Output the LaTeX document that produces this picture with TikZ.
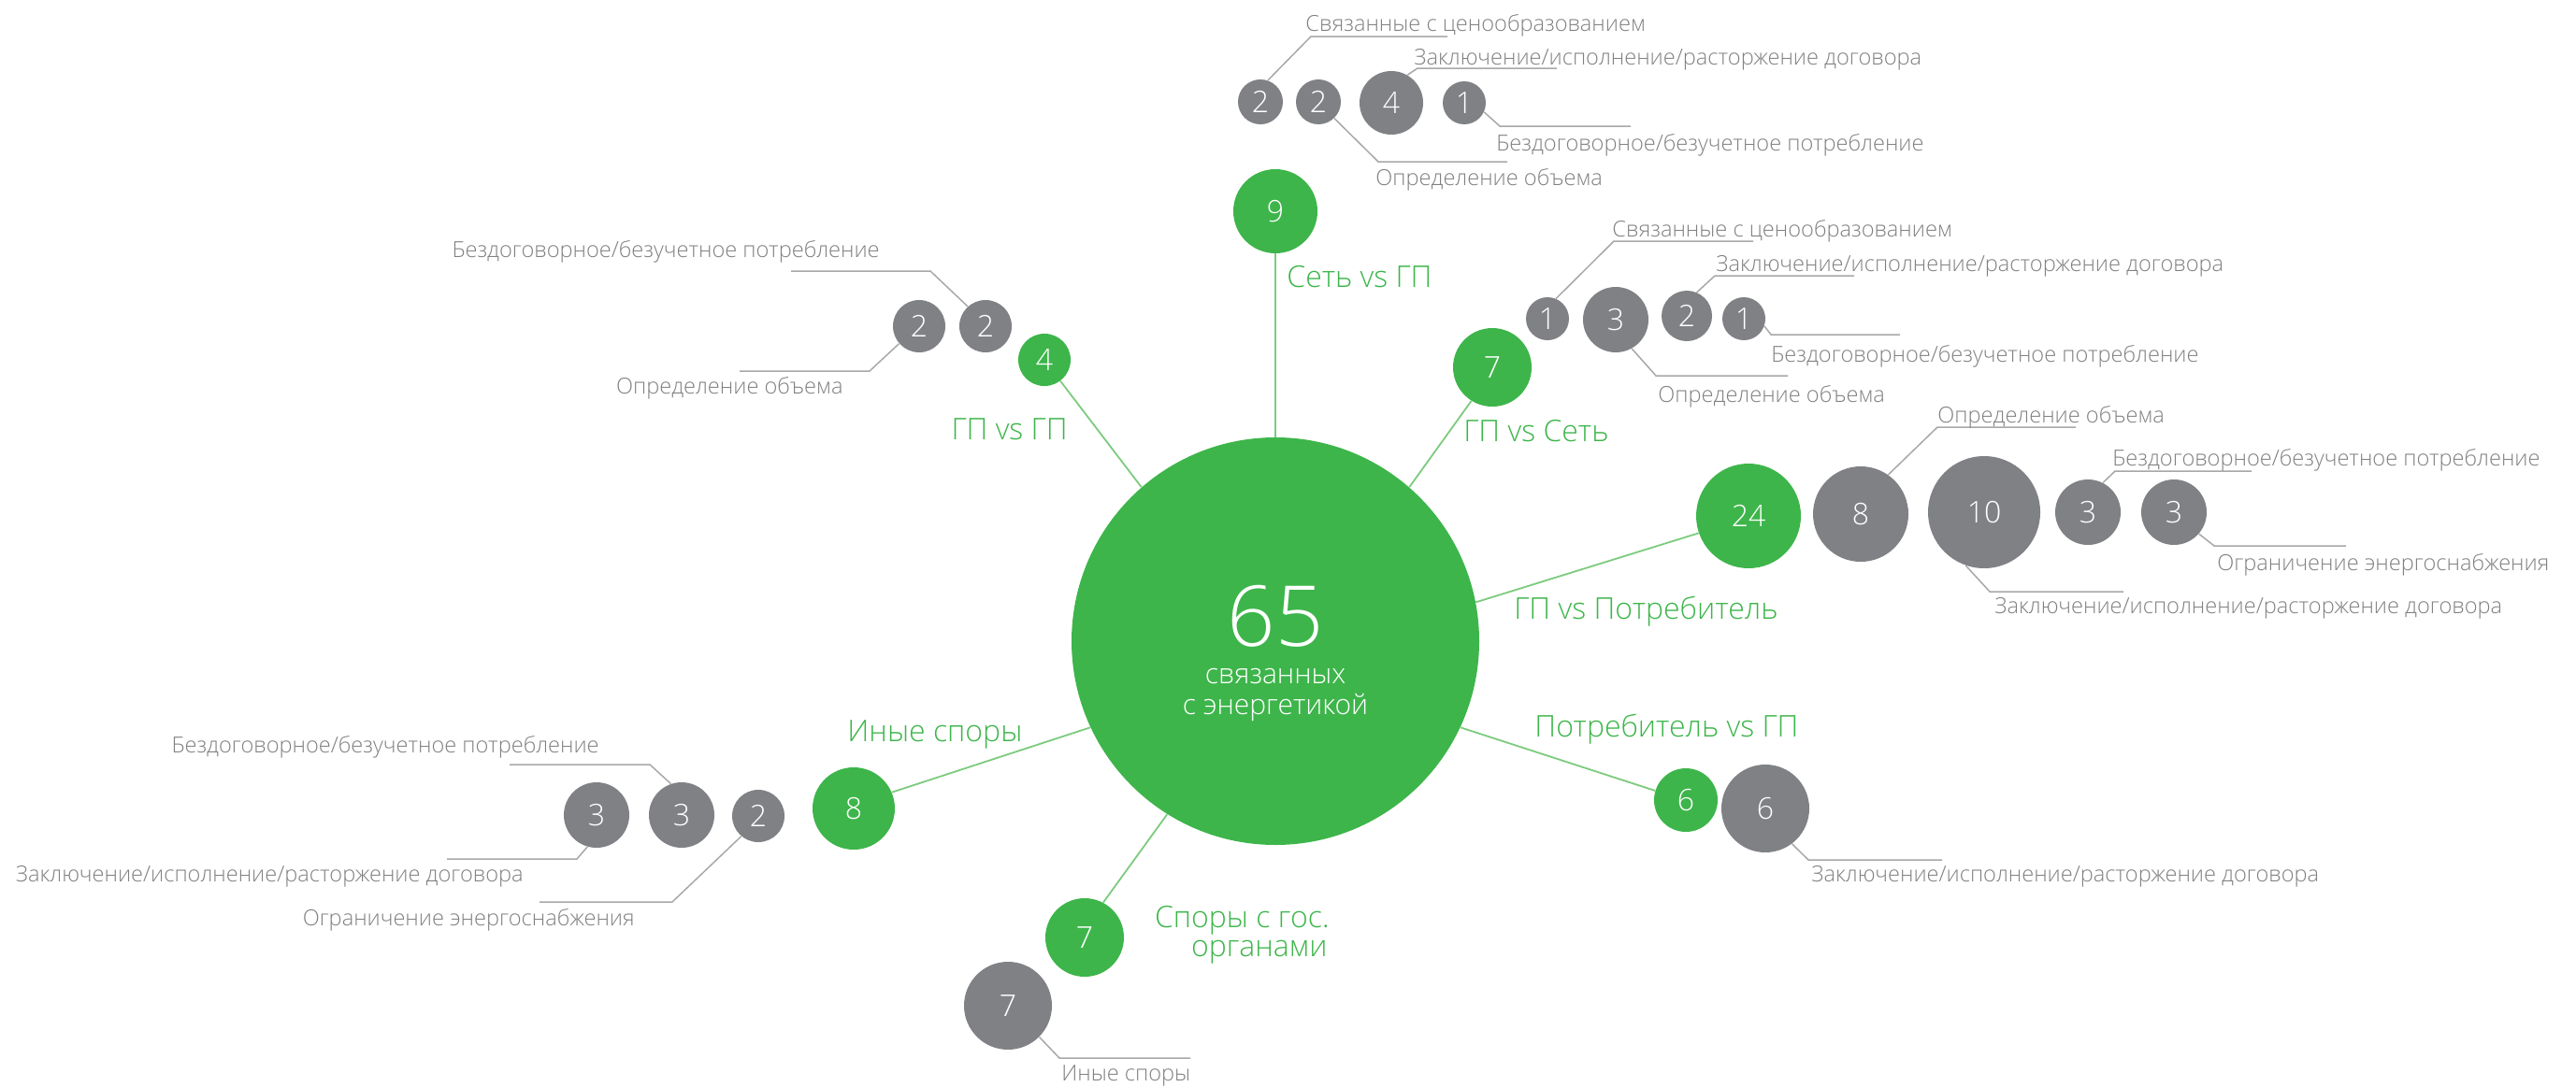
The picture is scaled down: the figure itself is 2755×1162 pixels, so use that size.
\documentclass[tikz,border=0pt]{standalone}
\usepackage{fontspec}
\IfFontExistsTF{Open Sans Light}{\setmainfont{Open Sans Light}}{\setmainfont{Open Sans}}
\definecolor{mygreen}{HTML}{3DB54A}
\definecolor{mygrey}{HTML}{808185}
\definecolor{txtgrey}{HTML}{808080}
\definecolor{linegrey}{HTML}{A8A8A8}
\definecolor{linegreen}{HTML}{7CCB7E}
\begin{document}
\begin{tikzpicture}[x=0.5pt,y=-0.5pt,
  bubble/.style={circle, inner sep=0pt, text=white, font=\fontsize{16}{16}\selectfont},
  gbub/.style={bubble, fill=mygreen},
  rbub/.style={bubble, fill=mygrey},
  glab/.style={inner sep=0pt, text=mygreen, font=\fontsize{16}{16}\selectfont},
  tlab/.style={inner sep=0pt, text=txtgrey, font=\fontsize{11.8}{11.8}\selectfont},
  ctext/.style={inner sep=0pt, text=white},
  lead/.style={draw=linegrey, line width=0.75pt},
  spoke/.style={draw=linegreen, line width=0.9pt}]
\useasboundingbox (0,0) rectangle (2755,1162);

% central circle
\node[gbub, minimum size=218pt] (c) at (1364,686) {};
\node[ctext, font=\fontsize{45}{45}\selectfont, anchor=base] (c65) at (1364,691) {65};
\node[ctext, font=\fontsize{15}{15}\selectfont, anchor=base] (cl1) at (1364,731) {связанных};
\node[ctext, font=\fontsize{15}{15}\selectfont, anchor=base] (cl2) at (1364,764) {с энергетикой};

% green category circles
\node[gbub, minimum size=45pt] (g9) at (1364,226) {9};
\node[gbub, minimum size=28pt] (g4) at (1117,385) {4};
\node[gbub, minimum size=42pt] (g7a) at (1596,393) {7};
\node[gbub, minimum size=56pt] (g24) at (1870,552) {24};
\node[gbub, minimum size=34pt] (g6) at (1803,856) {6};
\node[gbub, minimum size=44pt] (g8) at (913,865) {8};
\node[gbub, minimum size=42pt] (g7b) at (1160,1003) {7};

% spokes
\draw[spoke] (c.north) -- (g9.south);
\draw[spoke] (c.131) -- (g4.-53);
\draw[spoke] (c.49) -- (g7a.238);
\draw[spoke] (c.11) -- (g24.199);
\draw[spoke] (c.-25) -- (g6.163);
\draw[spoke] (c.205) -- (g8.23);
\draw[spoke] (c.238) -- (g7b.62);

% green labels
\node[glab, anchor=base west] (lab9) at (1376,307) {Сеть vs ГП};
\node[glab, anchor=base east] (lab4) at (1142,470) {ГП vs ГП};
\node[glab, anchor=base west] (lab7a) at (1565,472) {ГП vs Сеть};
\node[glab, anchor=base west] (lab24) at (1619,662) {ГП vs Потребитель};
\node[glab, anchor=base west] (lab6) at (1641,788) {Потребитель vs ГП};
\node[glab, anchor=base west] (lab8) at (906,793) {Иные споры};
\node[glab, anchor=base east] (lab7b1) at (1422,992) {Споры с гос.};
\node[glab, anchor=base east] (lab7b2) at (1420,1023) {органами};

% ---- top group (Сеть vs ГП)
\node[rbub, minimum size=24pt] (t1) at (1348,109) {2};
\node[rbub, minimum size=24pt] (t2) at (1410,109) {2};
\node[rbub, minimum size=34pt] (t3) at (1488,110) {4};
\node[rbub, minimum size=23pt] (t4) at (1566,110) {1};
\coordinate (t1e) at (1402,39); \coordinate (t1f) at (1548,39);
\coordinate (t3e) at (1516,73); \coordinate (t3f) at (1665,73);
\coordinate (t4e) at (1604,135); \coordinate (t4f) at (1744,135);
\coordinate (t2e) at (1474,173); \coordinate (t2f) at (1612,173);
\draw[lead] (t1.71) -- (t1e) -- (t1f);
\draw[lead] (t3.60) -- (t3e) -- (t3f);
\draw[lead] (t4.-25) -- (t4e) -- (t4f);
\draw[lead] (t2.-46) -- (t2e) -- (t2f);
\node[tlab, anchor=base west] (t1l) at (1396,33) {Связанные с ценообразованием};
\node[tlab, anchor=base west] (t3l) at (1512,69) {Заключение/исполнение/расторжение договора};
\node[tlab, anchor=base west] (t4l) at (1600,161) {Бездоговорное/безучетное потребление};
\node[tlab, anchor=base west] (t2l) at (1471,198) {Определение объема};

% ---- upper right group (ГП vs Сеть)
\node[rbub, minimum size=23pt] (r1) at (1655,341) {1};
\node[rbub, minimum size=35pt] (r2) at (1728,342) {3};
\node[rbub, minimum size=27pt] (r3) at (1804,338) {2};
\node[rbub, minimum size=23pt] (r4) at (1865,341) {1};
\coordinate (r1e) at (1726,258); \coordinate (r1f) at (1875,258);
\coordinate (r3e) at (1834,295); \coordinate (r3f) at (1983,295);
\coordinate (r4e) at (1894,358); \coordinate (r4f) at (2032,358);
\coordinate (r2e) at (1771,402); \coordinate (r2f) at (1912,402);
\draw[lead] (r1.67) -- (r1e) -- (r1f);
\draw[lead] (r3.67) -- (r3e) -- (r3f);
\draw[lead] (r4.-20) -- (r4e) -- (r4f);
\draw[lead] (r2.-61) -- (r2e) -- (r2f);
\node[tlab, anchor=base west] (r1l) at (1724,253) {Связанные с ценообразованием};
\node[tlab, anchor=base west] (r3l) at (1835,290) {Заключение/исполнение/расторжение договора};
\node[tlab, anchor=base west] (r4l) at (1894,387) {Бездоговорное/безучетное потребление};
\node[tlab, anchor=base west] (r2l) at (1773,430) {Определение объема};

% ---- right group (ГП vs Потребитель)
\node[rbub, minimum size=51pt] (p1) at (1990,550) {8};
\node[rbub, minimum size=60pt] (p2) at (2122,548) {10};
\node[rbub, minimum size=35pt] (p3) at (2233,548) {3};
\node[rbub, minimum size=35pt] (p4) at (2325,548) {3};
\coordinate (p1e) at (2072,457); \coordinate (p1f) at (2220,457);
\coordinate (p3e) at (2262,504); \coordinate (p3f) at (2408,504);
\coordinate (p4e) at (2368,584); \coordinate (p4f) at (2509,584);
\coordinate (p2e) at (2128,633); \coordinate (p2f) at (2271,633);
\draw[lead] (p1.55) -- (p1e) -- (p1f);
\draw[lead] (p3.63) -- (p3e) -- (p3f);
\draw[lead] (p4.-41) -- (p4e) -- (p4f);
\draw[lead] (p2.-109) -- (p2e) -- (p2f);
\node[tlab, anchor=base west] (p1l) at (2072,452) {Определение объема};
\node[tlab, anchor=base west] (p3l) at (2259,498) {Бездоговорное/безучетное потребление};
\node[tlab, anchor=base west] (p4l) at (2371,610) {Ограничение энергоснабжения};
\node[tlab, anchor=base west] (p2l) at (2133,656) {Заключение/исполнение/расторжение договора};

% ---- lower right group (Потребитель vs ГП)
\node[rbub, minimum size=47pt] (q1) at (1888,865) {6};
\coordinate (q1e) at (1934,920); \coordinate (q1f) at (2077,920);
\draw[lead] (q1.-53) -- (q1e) -- (q1f);
\node[tlab, anchor=base west] (q1l) at (1937,943) {Заключение/исполнение/расторжение договора};

% ---- left group (Иные споры)
\node[rbub, minimum size=35pt] (l1) at (638,872) {3};
\node[rbub, minimum size=35pt] (l2) at (729,872) {3};
\node[rbub, minimum size=28pt] (l3) at (811,873) {2};
\coordinate (l2e) at (695,818); \coordinate (l2f) at (545,818);
\coordinate (l1e) at (617,919); \coordinate (l1f) at (478,919);
\coordinate (l3e) at (719,965); \coordinate (l3f) at (577,965);
\draw[lead] (l2.109) -- (l2e) -- (l2f);
\draw[lead] (l1.-106) -- (l1e) -- (l1f);
\draw[lead] (l3.230) -- (l3e) -- (l3f);
\node[tlab, anchor=base east] (l2l) at (641,805) {Бездоговорное/безучетное потребление};
\node[tlab, anchor=base east] (l1l) at (560,943) {Заключение/исполнение/расторжение договора};
\node[tlab, anchor=base east] (l3l) at (679,990) {Ограничение энергоснабжения};

% ---- upper left group (ГП vs ГП)
\node[rbub, minimum size=28pt] (u1) at (983,349) {2};
\node[rbub, minimum size=28pt] (u2) at (1054,349) {2};
\coordinate (u2e) at (995,290); \coordinate (u2f) at (846,290);
\coordinate (u1e) at (930,397); \coordinate (u1f) at (791,397);
\draw[lead] (u2.132) -- (u2e) -- (u2f);
\draw[lead] (u1.221) -- (u1e) -- (u1f);
\node[tlab, anchor=base east] (u2l) at (941,275) {Бездоговорное/безучетное потребление};
\node[tlab, anchor=base east] (u1l) at (902,421) {Определение объема};

% ---- bottom group (Споры с гос. органами)
\node[rbub, minimum size=47pt] (s1) at (1078,1076) {7};
\coordinate (s1e) at (1133,1132); \coordinate (s1f) at (1273,1132);
\draw[lead] (s1.-45) -- (s1e) -- (s1f);
\node[tlab, anchor=base west] (s1l) at (1135,1156) {Иные споры};
\end{tikzpicture}
\end{document}
